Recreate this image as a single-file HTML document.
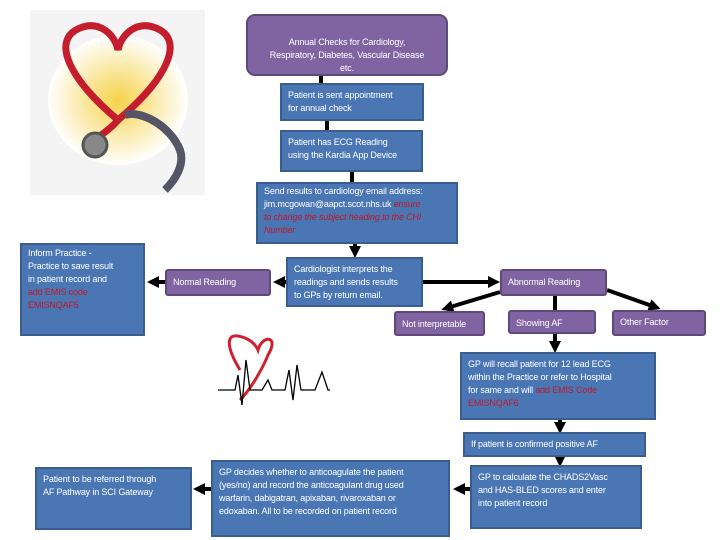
<!DOCTYPE html>
<html><head><style>
body{margin:0;width:720px;height:540px;background:#fff;position:relative;overflow:hidden;font-family:"Liberation Sans Narrow","Liberation Sans",sans-serif;}
.b{position:absolute;box-sizing:border-box;background:#4a77b4;border:2px solid #3a5f8f;color:#fff;font-size:9px;line-height:13px;padding:4px 6px;white-space:nowrap;letter-spacing:-0.15px;}
.p{position:absolute;box-sizing:border-box;background:#8064a2;border:2px solid #5e4a7a;color:#fff;font-size:9px;line-height:13px;padding:5px 6px;border-radius:3px;white-space:nowrap;letter-spacing:-0.15px;}
.r{color:#c0182a;}
.ri{color:#c0182a;font-style:italic;}
svg{position:absolute;left:0;top:0;}
</style></head><body>
<svg width="720" height="540">
<defs><marker id="a" markerWidth="3" markerHeight="3" refX="1.5" refY="1.5" orient="auto"><path d="M0,0L3,1.5L0,3z" fill="#000"/></marker>
<radialGradient id="g"><stop offset="0" stop-color="#f6d24a"/><stop offset="1" stop-color="#fff"/></radialGradient></defs>
<rect x="30" y="10" width="175" height="185" fill="#f4f4f4"/>
<ellipse cx="118" cy="100" rx="70" ry="65" fill="url(#g)"/>
<path d="M118,120 C70,80 50,40 80,28 C100,20 115,35 118,50 C121,35 136,20 156,28 C186,40 166,80 118,120 Z" fill="none" stroke="#c41e2e" stroke-width="7"/>
<path d="M118,120 C110,130 100,135 95,140" fill="none" stroke="#c41e2e" stroke-width="7"/>
<circle cx="95" cy="145" r="12" fill="#888" stroke="#555" stroke-width="3"/>
<path d="M125,115 C140,110 170,125 180,150 C185,165 175,180 165,190" fill="none" stroke="#556" stroke-width="8"/>
<path d="M240,370 C225,345 225,330 245,338 C255,342 258,350 258,350 C262,335 280,335 268,355 C262,370 250,390 240,400" fill="none" stroke="#d02030" stroke-width="3"/>
<path d="M218,390 L235,390 L238,375 L242,405 L246,360 L250,390 L262,390 L268,380 L272,390 L285,390 L289,370 L293,400 L297,365 L301,390 L315,390 L322,372 L328,390 L330,390" fill="none" stroke="#000" stroke-width="1.3"/>
<g stroke="#000" stroke-width="4" fill="none">
<line x1="321" y1="76" x2="321" y2="83"/>
<line x1="327" y1="121" x2="327" y2="130"/>
<line x1="352" y1="172" x2="352" y2="182"/>
<line x1="355" y1="244" x2="355" y2="252" marker-end="url(#a)"/>
<line x1="286" y1="282" x2="279" y2="282" marker-end="url(#a)"/>
<line x1="165" y1="282" x2="153" y2="282" marker-end="url(#a)"/>
<line x1="423" y1="282" x2="494" y2="282" marker-end="url(#a)"/>
<line x1="500" y1="292" x2="447" y2="308" marker-end="url(#a)"/>
<line x1="607" y1="290" x2="655" y2="307" marker-end="url(#a)"/>
<line x1="555" y1="296" x2="555" y2="310"/>
<line x1="555" y1="334" x2="555" y2="347" marker-end="url(#a)"/>
<line x1="560" y1="420" x2="560" y2="428" marker-end="url(#a)"/>
<line x1="560" y1="457" x2="560" y2="461" marker-end="url(#a)"/>
<line x1="470" y1="489" x2="459" y2="489" marker-end="url(#a)"/>
<line x1="211" y1="489" x2="199" y2="489" marker-end="url(#a)"/>
</g>
</svg>
<div class="p" style="left:246px;top:14px;width:202px;height:62px;border-radius:9px;text-align:center;padding-top:20px;">Annual Checks for Cardiology,<br>Respiratory, Diabetes, Vascular Disease<br>etc.</div>
<div class="b" style="left:280px;top:83px;width:144px;height:38px;">Patient is sent appointment<br>for annual check</div>
<div class="b" style="left:280px;top:130px;width:143px;height:42px;">Patient has ECG Reading<br>using the Kardia App Device</div>
<div class="b" style="left:256px;top:182px;width:202px;height:62px;padding:1px 6px;">Send results to cardiology email address:<br>jim.mcgowan@aapct.scot.nhs.uk <span class="ri">ensure</span><br><span class="ri">to change the subject heading to the CHI</span><br><span class="ri">Number</span></div>
<div class="b" style="left:20px;top:243px;width:125px;height:93px;padding:2px 6px;">Inform Practice -<br>Practice to save result<br>in patient record and<br><span class="r">add EMIS code<br>EMISNQAF5</span></div>
<div class="p" style="left:165px;top:269px;width:106px;height:27px;">Normal Reading</div>
<div class="b" style="left:286px;top:257px;width:137px;height:50px;">Cardiologist interprets the<br>readings and sends results<br>to GPs by return email.</div>
<div class="p" style="left:500px;top:269px;width:107px;height:27px;">Abnormal Reading</div>
<div class="p" style="left:394px;top:311px;width:91px;height:25px;">Not interpretable</div>
<div class="p" style="left:508px;top:310px;width:88px;height:24px;">Showing AF</div>
<div class="p" style="left:612px;top:310px;width:94px;height:26px;padding-top:4px;">Other Factor</div>
<div class="b" style="left:460px;top:352px;width:196px;height:68px;">GP will recall patient for 12 lead ECG<br>within the Practice or refer to Hospital<br>for same and will <span class="r">add EMIS Code<br>EMISNQAF6</span></div>
<div class="b" style="left:463px;top:432px;width:183px;height:25px;">If patient is confirmed positive AF</div>
<div class="b" style="left:35px;top:467px;width:157px;height:63px;">Patient to be referred through<br>AF Pathway in SCI Gateway</div>
<div class="b" style="left:211px;top:460px;width:239px;height:77px;">GP decides whether to anticoagulate the patient<br>(yes/no) and record the anticoagulant drug used<br>warfarin, dabigatran, apixaban, rivaroxaban or<br>edoxaban. All to be recorded on patient record</div>
<div class="b" style="left:470px;top:465px;width:172px;height:64px;">GP to calculate the CHADS2Vasc<br>and HAS-BLED scores and enter<br>into patient record</div>
</body></html>
